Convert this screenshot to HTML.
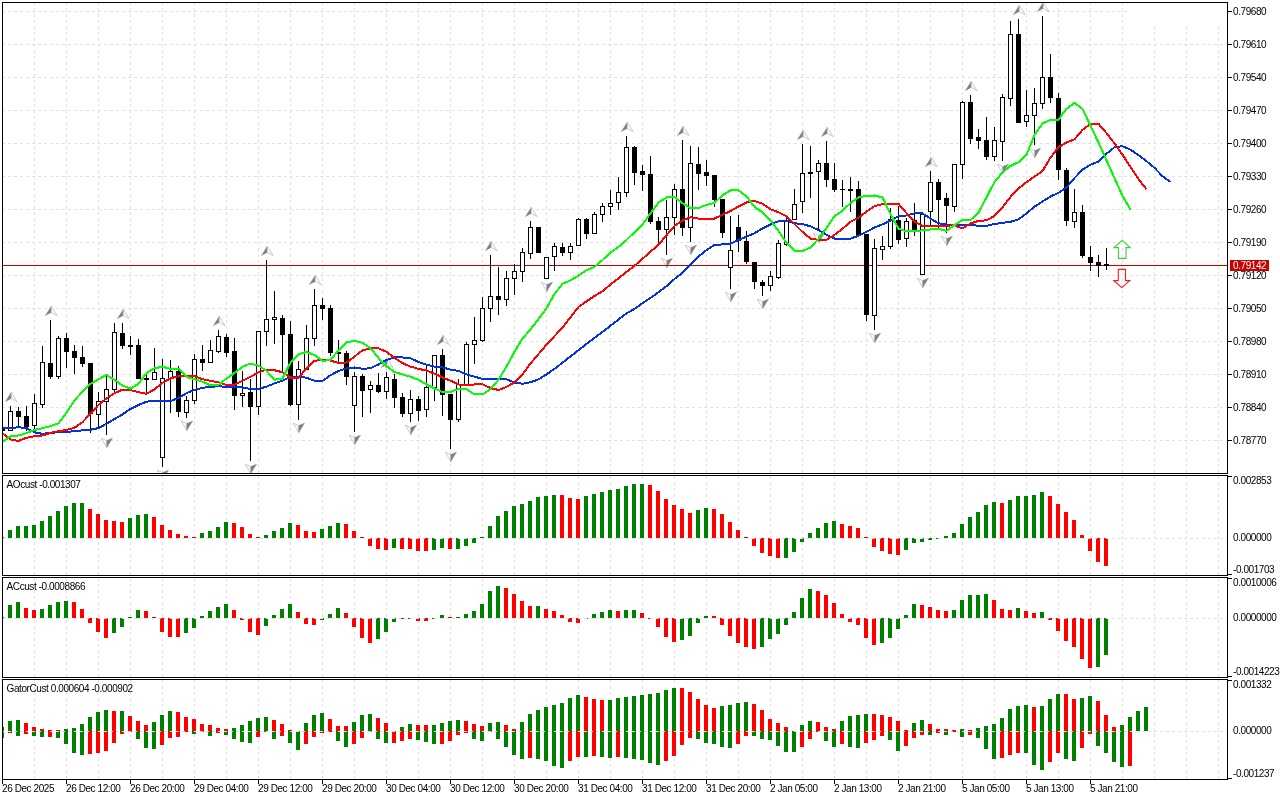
<!DOCTYPE html><html><head><meta charset="utf-8"><title>Chart</title><style>
html,body{margin:0;padding:0;background:#fff;width:1280px;height:800px;overflow:hidden}
svg{display:block;position:absolute;left:0;top:0}
text{font-family:"Liberation Sans",sans-serif;font-size:10px;letter-spacing:-0.42px;fill:#000}
.g{stroke:#e1e1e1;stroke-width:1;stroke-dasharray:3 3;fill:none}
</style></head><body>
<svg width="1280" height="800" viewBox="0 0 1280 800" shape-rendering="crispEdges">
<rect x="0" y="0" width="1280" height="800" fill="#fff"/>
<g class="g">
<line x1="34.5" y1="2" x2="34.5" y2="779"/>
<line x1="66.5" y1="2" x2="66.5" y2="779"/>
<line x1="98.5" y1="2" x2="98.5" y2="779"/>
<line x1="130.5" y1="2" x2="130.5" y2="779"/>
<line x1="162.5" y1="2" x2="162.5" y2="779"/>
<line x1="194.5" y1="2" x2="194.5" y2="779"/>
<line x1="226.5" y1="2" x2="226.5" y2="779"/>
<line x1="258.5" y1="2" x2="258.5" y2="779"/>
<line x1="290.5" y1="2" x2="290.5" y2="779"/>
<line x1="322.5" y1="2" x2="322.5" y2="779"/>
<line x1="354.5" y1="2" x2="354.5" y2="779"/>
<line x1="386.5" y1="2" x2="386.5" y2="779"/>
<line x1="418.5" y1="2" x2="418.5" y2="779"/>
<line x1="450.5" y1="2" x2="450.5" y2="779"/>
<line x1="482.5" y1="2" x2="482.5" y2="779"/>
<line x1="514.5" y1="2" x2="514.5" y2="779"/>
<line x1="546.5" y1="2" x2="546.5" y2="779"/>
<line x1="578.5" y1="2" x2="578.5" y2="779"/>
<line x1="610.5" y1="2" x2="610.5" y2="779"/>
<line x1="642.5" y1="2" x2="642.5" y2="779"/>
<line x1="674.5" y1="2" x2="674.5" y2="779"/>
<line x1="706.5" y1="2" x2="706.5" y2="779"/>
<line x1="738.5" y1="2" x2="738.5" y2="779"/>
<line x1="770.5" y1="2" x2="770.5" y2="779"/>
<line x1="802.5" y1="2" x2="802.5" y2="779"/>
<line x1="834.5" y1="2" x2="834.5" y2="779"/>
<line x1="866.5" y1="2" x2="866.5" y2="779"/>
<line x1="898.5" y1="2" x2="898.5" y2="779"/>
<line x1="930.5" y1="2" x2="930.5" y2="779"/>
<line x1="962.5" y1="2" x2="962.5" y2="779"/>
<line x1="994.5" y1="2" x2="994.5" y2="779"/>
<line x1="1026.5" y1="2" x2="1026.5" y2="779"/>
<line x1="1058.5" y1="2" x2="1058.5" y2="779"/>
<line x1="1090.5" y1="2" x2="1090.5" y2="779"/>
<line x1="1122.5" y1="2" x2="1122.5" y2="779"/>
<line x1="1154.5" y1="2" x2="1154.5" y2="779"/>
<line x1="1186.5" y1="2" x2="1186.5" y2="779"/>
<line x1="1218.5" y1="2" x2="1218.5" y2="779"/>
<line x1="2" y1="11.5" x2="1227" y2="11.5"/>
<line x1="2" y1="44.5" x2="1227" y2="44.5"/>
<line x1="2" y1="77.5" x2="1227" y2="77.5"/>
<line x1="2" y1="110.5" x2="1227" y2="110.5"/>
<line x1="2" y1="143.5" x2="1227" y2="143.5"/>
<line x1="2" y1="176.5" x2="1227" y2="176.5"/>
<line x1="2" y1="209.5" x2="1227" y2="209.5"/>
<line x1="2" y1="242.5" x2="1227" y2="242.5"/>
<line x1="2" y1="275.5" x2="1227" y2="275.5"/>
<line x1="2" y1="308.5" x2="1227" y2="308.5"/>
<line x1="2" y1="341.5" x2="1227" y2="341.5"/>
<line x1="2" y1="374.5" x2="1227" y2="374.5"/>
<line x1="2" y1="407.5" x2="1227" y2="407.5"/>
<line x1="2" y1="440.5" x2="1227" y2="440.5"/>
<line x1="2" y1="538.5" x2="1227" y2="538.5"/>
<line x1="2" y1="618.5" x2="1227" y2="618.5"/>
<line x1="2" y1="731.5" x2="1227" y2="731.5"/>
</g>
<rect x="1127" y="3" width="100" height="23" fill="#fff"/>
<rect x="0" y="474" width="1280" height="1" fill="#fff"/>
<rect x="0" y="576" width="1280" height="1" fill="#fff"/>
<rect x="0" y="678" width="1280" height="1" fill="#fff"/>
<defs><clipPath id="mc"><rect x="3" y="3" width="1224" height="470"/></clipPath></defs>
<g clip-path="url(#mc)">
<g shape-rendering="geometricPrecision">
<polygon points="11.3,392.25 5.4,401.6 11.3,398.5" fill="#808080" stroke="#8a8a8a" stroke-width=".4"/><polygon points="11.3,392.25 17,401.6 11.3,398.5" fill="#fbfbfb" stroke="#b4b8c6" stroke-width=".7"/>
<polygon points="51.3,306.25 45.4,315.6 51.3,312.5" fill="#808080" stroke="#8a8a8a" stroke-width=".4"/><polygon points="51.3,306.25 57,315.6 51.3,312.5" fill="#fbfbfb" stroke="#b4b8c6" stroke-width=".7"/>
<polygon points="123.3,309.25 117.4,318.6 123.3,315.5" fill="#808080" stroke="#8a8a8a" stroke-width=".4"/><polygon points="123.3,309.25 129,318.6 123.3,315.5" fill="#fbfbfb" stroke="#b4b8c6" stroke-width=".7"/>
<polygon points="219.3,316.25 213.4,325.6 219.3,322.5" fill="#808080" stroke="#8a8a8a" stroke-width=".4"/><polygon points="219.3,316.25 225,325.6 219.3,322.5" fill="#fbfbfb" stroke="#b4b8c6" stroke-width=".7"/>
<polygon points="267.3,246.25 261.4,255.6 267.3,252.5" fill="#808080" stroke="#8a8a8a" stroke-width=".4"/><polygon points="267.3,246.25 273,255.6 267.3,252.5" fill="#fbfbfb" stroke="#b4b8c6" stroke-width=".7"/>
<polygon points="315.3,275.25 309.4,284.6 315.3,281.5" fill="#808080" stroke="#8a8a8a" stroke-width=".4"/><polygon points="315.3,275.25 321,284.6 315.3,281.5" fill="#fbfbfb" stroke="#b4b8c6" stroke-width=".7"/>
<polygon points="387.3,358.25 381.4,367.6 387.3,364.5" fill="#808080" stroke="#8a8a8a" stroke-width=".4"/><polygon points="387.3,358.25 393,367.6 387.3,364.5" fill="#fbfbfb" stroke="#b4b8c6" stroke-width=".7"/>
<polygon points="443.3,335.25 437.4,344.6 443.3,341.5" fill="#808080" stroke="#8a8a8a" stroke-width=".4"/><polygon points="443.3,335.25 449,344.6 443.3,341.5" fill="#fbfbfb" stroke="#b4b8c6" stroke-width=".7"/>
<polygon points="491.3,241.25 485.4,250.6 491.3,247.5" fill="#808080" stroke="#8a8a8a" stroke-width=".4"/><polygon points="491.3,241.25 497,250.6 491.3,247.5" fill="#fbfbfb" stroke="#b4b8c6" stroke-width=".7"/>
<polygon points="531.3,207.25 525.4,216.6 531.3,213.5" fill="#808080" stroke="#8a8a8a" stroke-width=".4"/><polygon points="531.3,207.25 537,216.6 531.3,213.5" fill="#fbfbfb" stroke="#b4b8c6" stroke-width=".7"/>
<polygon points="627.3,122.25 621.4,131.6 627.3,128.5" fill="#808080" stroke="#8a8a8a" stroke-width=".4"/><polygon points="627.3,122.25 633,131.6 627.3,128.5" fill="#fbfbfb" stroke="#b4b8c6" stroke-width=".7"/>
<polygon points="683.3,126.25 677.4,135.6 683.3,132.5" fill="#808080" stroke="#8a8a8a" stroke-width=".4"/><polygon points="683.3,126.25 689,135.6 683.3,132.5" fill="#fbfbfb" stroke="#b4b8c6" stroke-width=".7"/>
<polygon points="803.3,130.25 797.4,139.6 803.3,136.5" fill="#808080" stroke="#8a8a8a" stroke-width=".4"/><polygon points="803.3,130.25 809,139.6 803.3,136.5" fill="#fbfbfb" stroke="#b4b8c6" stroke-width=".7"/>
<polygon points="827.3,127.25 821.4,136.6 827.3,133.5" fill="#808080" stroke="#8a8a8a" stroke-width=".4"/><polygon points="827.3,127.25 833,136.6 827.3,133.5" fill="#fbfbfb" stroke="#b4b8c6" stroke-width=".7"/>
<polygon points="931.3,157.25 925.4,166.6 931.3,163.5" fill="#808080" stroke="#8a8a8a" stroke-width=".4"/><polygon points="931.3,157.25 937,166.6 931.3,163.5" fill="#fbfbfb" stroke="#b4b8c6" stroke-width=".7"/>
<polygon points="971.3,81.25 965.4,90.6 971.3,87.5" fill="#808080" stroke="#8a8a8a" stroke-width=".4"/><polygon points="971.3,81.25 977,90.6 971.3,87.5" fill="#fbfbfb" stroke="#b4b8c6" stroke-width=".7"/>
<polygon points="1019.3,5.25 1013.4,14.6 1019.3,11.5" fill="#808080" stroke="#8a8a8a" stroke-width=".4"/><polygon points="1019.3,5.25 1025,14.6 1019.3,11.5" fill="#fbfbfb" stroke="#b4b8c6" stroke-width=".7"/>
<polygon points="1043.3,2.25 1037.4,11.6 1043.3,8.5" fill="#808080" stroke="#8a8a8a" stroke-width=".4"/><polygon points="1043.3,2.25 1049,11.6 1043.3,8.5" fill="#fbfbfb" stroke="#b4b8c6" stroke-width=".7"/>
<polygon points="106.8,447.5 101.2,438.1 106.8,440.6" fill="#fbfbfb" stroke="#b4b8c6" stroke-width=".7"/><polygon points="106.8,447.5 112.6,438.1 106.8,440.6" fill="#808080" stroke="#8a8a8a" stroke-width=".4"/>
<polygon points="162.8,479.5 157.2,470.1 162.8,472.6" fill="#fbfbfb" stroke="#b4b8c6" stroke-width=".7"/><polygon points="162.8,479.5 168.6,470.1 162.8,472.6" fill="#808080" stroke="#8a8a8a" stroke-width=".4"/>
<polygon points="186.8,430.5 181.2,421.1 186.8,423.6" fill="#fbfbfb" stroke="#b4b8c6" stroke-width=".7"/><polygon points="186.8,430.5 192.6,421.1 186.8,423.6" fill="#808080" stroke="#8a8a8a" stroke-width=".4"/>
<polygon points="250.8,473.5 245.2,464.1 250.8,466.6" fill="#fbfbfb" stroke="#b4b8c6" stroke-width=".7"/><polygon points="250.8,473.5 256.6,464.1 250.8,466.6" fill="#808080" stroke="#8a8a8a" stroke-width=".4"/>
<polygon points="298.8,432.5 293.2,423.1 298.8,425.6" fill="#fbfbfb" stroke="#b4b8c6" stroke-width=".7"/><polygon points="298.8,432.5 304.6,423.1 298.8,425.6" fill="#808080" stroke="#8a8a8a" stroke-width=".4"/>
<polygon points="354.8,444.5 349.2,435.1 354.8,437.6" fill="#fbfbfb" stroke="#b4b8c6" stroke-width=".7"/><polygon points="354.8,444.5 360.6,435.1 354.8,437.6" fill="#808080" stroke="#8a8a8a" stroke-width=".4"/>
<polygon points="410.8,434.5 405.2,425.1 410.8,427.6" fill="#fbfbfb" stroke="#b4b8c6" stroke-width=".7"/><polygon points="410.8,434.5 416.6,425.1 410.8,427.6" fill="#808080" stroke="#8a8a8a" stroke-width=".4"/>
<polygon points="450.8,461.5 445.2,452.1 450.8,454.6" fill="#fbfbfb" stroke="#b4b8c6" stroke-width=".7"/><polygon points="450.8,461.5 456.6,452.1 450.8,454.6" fill="#808080" stroke="#8a8a8a" stroke-width=".4"/>
<polygon points="546.8,291.5 541.2,282.1 546.8,284.6" fill="#fbfbfb" stroke="#b4b8c6" stroke-width=".7"/><polygon points="546.8,291.5 552.6,282.1 546.8,284.6" fill="#808080" stroke="#8a8a8a" stroke-width=".4"/>
<polygon points="666.8,267.5 661.2,258.1 666.8,260.6" fill="#fbfbfb" stroke="#b4b8c6" stroke-width=".7"/><polygon points="666.8,267.5 672.6,258.1 666.8,260.6" fill="#808080" stroke="#8a8a8a" stroke-width=".4"/>
<polygon points="690.8,254.5 685.2,245.1 690.8,247.6" fill="#fbfbfb" stroke="#b4b8c6" stroke-width=".7"/><polygon points="690.8,254.5 696.6,245.1 690.8,247.6" fill="#808080" stroke="#8a8a8a" stroke-width=".4"/>
<polygon points="730.8,301.5 725.2,292.1 730.8,294.6" fill="#fbfbfb" stroke="#b4b8c6" stroke-width=".7"/><polygon points="730.8,301.5 736.6,292.1 730.8,294.6" fill="#808080" stroke="#8a8a8a" stroke-width=".4"/>
<polygon points="762.8,308.5 757.2,299.1 762.8,301.6" fill="#fbfbfb" stroke="#b4b8c6" stroke-width=".7"/><polygon points="762.8,308.5 768.6,299.1 762.8,301.6" fill="#808080" stroke="#8a8a8a" stroke-width=".4"/>
<polygon points="818.8,242.5 813.2,233.1 818.8,235.6" fill="#fbfbfb" stroke="#b4b8c6" stroke-width=".7"/><polygon points="818.8,242.5 824.6,233.1 818.8,235.6" fill="#808080" stroke="#8a8a8a" stroke-width=".4"/>
<polygon points="874.8,342.5 869.2,333.1 874.8,335.6" fill="#fbfbfb" stroke="#b4b8c6" stroke-width=".7"/><polygon points="874.8,342.5 880.6,333.1 874.8,335.6" fill="#808080" stroke="#8a8a8a" stroke-width=".4"/>
<polygon points="922.8,287.5 917.2,278.1 922.8,280.6" fill="#fbfbfb" stroke="#b4b8c6" stroke-width=".7"/><polygon points="922.8,287.5 928.6,278.1 922.8,280.6" fill="#808080" stroke="#8a8a8a" stroke-width=".4"/>
<polygon points="946.8,245.5 941.2,236.1 946.8,238.6" fill="#fbfbfb" stroke="#b4b8c6" stroke-width=".7"/><polygon points="946.8,245.5 952.6,236.1 946.8,238.6" fill="#808080" stroke="#8a8a8a" stroke-width=".4"/>
<polygon points="1002.8,173.5 997.2,164.1 1002.8,166.6" fill="#fbfbfb" stroke="#b4b8c6" stroke-width=".7"/><polygon points="1002.8,173.5 1008.6,164.1 1002.8,166.6" fill="#808080" stroke="#8a8a8a" stroke-width=".4"/>
<polygon points="1034.8,157.5 1029.2,148.1 1034.8,150.6" fill="#fbfbfb" stroke="#b4b8c6" stroke-width=".7"/><polygon points="1034.8,157.5 1040.6,148.1 1034.8,150.6" fill="#808080" stroke="#8a8a8a" stroke-width=".4"/>
</g>
<rect x="3" y="265" width="1224" height="1" fill="#c80000"/>
<rect x="10" y="406" width="1" height="25" fill="#000"/>
<rect x="8" y="411" width="5" height="20" fill="#000"/>
<rect x="9" y="412" width="3" height="18" fill="#fff"/>
<rect x="18" y="407" width="1" height="20" fill="#000"/>
<rect x="16" y="411" width="5" height="6" fill="#000"/>
<rect x="26" y="406" width="1" height="25" fill="#000"/>
<rect x="24" y="416" width="5" height="11" fill="#000"/>
<rect x="34" y="394" width="1" height="35" fill="#000"/>
<rect x="32" y="403" width="5" height="23" fill="#000"/>
<rect x="33" y="404" width="3" height="21" fill="#fff"/>
<rect x="42" y="346" width="1" height="62" fill="#000"/>
<rect x="40" y="362" width="5" height="43" fill="#000"/>
<rect x="41" y="363" width="3" height="41" fill="#fff"/>
<rect x="50" y="320" width="1" height="59" fill="#000"/>
<rect x="48" y="363" width="5" height="14" fill="#000"/>
<rect x="58" y="336" width="1" height="43" fill="#000"/>
<rect x="56" y="338" width="5" height="39" fill="#000"/>
<rect x="57" y="339" width="3" height="37" fill="#fff"/>
<rect x="66" y="333" width="1" height="35" fill="#000"/>
<rect x="64" y="338" width="5" height="14" fill="#000"/>
<rect x="74" y="345" width="1" height="29" fill="#000"/>
<rect x="72" y="351" width="5" height="7" fill="#000"/>
<rect x="82" y="346" width="1" height="21" fill="#000"/>
<rect x="80" y="357" width="5" height="7" fill="#000"/>
<rect x="90" y="363" width="1" height="70" fill="#000"/>
<rect x="88" y="363" width="5" height="51" fill="#000"/>
<rect x="98" y="392" width="1" height="36" fill="#000"/>
<rect x="96" y="401" width="5" height="14" fill="#000"/>
<rect x="97" y="402" width="3" height="12" fill="#fff"/>
<rect x="106" y="376" width="1" height="59" fill="#000"/>
<rect x="104" y="389" width="5" height="13" fill="#000"/>
<rect x="105" y="390" width="3" height="11" fill="#fff"/>
<rect x="114" y="323" width="1" height="69" fill="#000"/>
<rect x="112" y="332" width="5" height="58" fill="#000"/>
<rect x="113" y="333" width="3" height="56" fill="#fff"/>
<rect x="122" y="323" width="1" height="26" fill="#000"/>
<rect x="120" y="333" width="5" height="13" fill="#000"/>
<rect x="130" y="336" width="1" height="19" fill="#000"/>
<rect x="128" y="345" width="5" height="2" fill="#000"/>
<rect x="138" y="339" width="1" height="40" fill="#000"/>
<rect x="136" y="345" width="5" height="34" fill="#000"/>
<rect x="146" y="374" width="1" height="19" fill="#000"/>
<rect x="144" y="378" width="5" height="2" fill="#000"/>
<rect x="154" y="348" width="1" height="32" fill="#000"/>
<rect x="152" y="372" width="5" height="8" fill="#000"/>
<rect x="153" y="373" width="3" height="6" fill="#fff"/>
<rect x="162" y="359" width="1" height="108" fill="#000"/>
<rect x="160" y="378" width="5" height="80" fill="#000"/>
<rect x="161" y="379" width="3" height="78" fill="#fff"/>
<rect x="170" y="360" width="1" height="53" fill="#000"/>
<rect x="168" y="371" width="5" height="8" fill="#000"/>
<rect x="169" y="372" width="3" height="6" fill="#fff"/>
<rect x="178" y="366" width="1" height="51" fill="#000"/>
<rect x="176" y="371" width="5" height="41" fill="#000"/>
<rect x="186" y="396" width="1" height="22" fill="#000"/>
<rect x="184" y="400" width="5" height="13" fill="#000"/>
<rect x="185" y="401" width="3" height="11" fill="#fff"/>
<rect x="194" y="354" width="1" height="50" fill="#000"/>
<rect x="192" y="359" width="5" height="42" fill="#000"/>
<rect x="193" y="360" width="3" height="40" fill="#fff"/>
<rect x="202" y="345" width="1" height="26" fill="#000"/>
<rect x="200" y="359" width="5" height="4" fill="#000"/>
<rect x="210" y="340" width="1" height="23" fill="#000"/>
<rect x="208" y="350" width="5" height="13" fill="#000"/>
<rect x="209" y="351" width="3" height="11" fill="#fff"/>
<rect x="218" y="330" width="1" height="23" fill="#000"/>
<rect x="216" y="336" width="5" height="16" fill="#000"/>
<rect x="217" y="337" width="3" height="14" fill="#fff"/>
<rect x="226" y="334" width="1" height="23" fill="#000"/>
<rect x="224" y="337" width="5" height="16" fill="#000"/>
<rect x="234" y="338" width="1" height="72" fill="#000"/>
<rect x="232" y="351" width="5" height="45" fill="#000"/>
<rect x="242" y="371" width="1" height="36" fill="#000"/>
<rect x="240" y="393" width="5" height="3" fill="#000"/>
<rect x="241" y="394" width="3" height="1" fill="#fff"/>
<rect x="250" y="379" width="1" height="82" fill="#000"/>
<rect x="248" y="392" width="5" height="15" fill="#000"/>
<rect x="258" y="331" width="1" height="84" fill="#000"/>
<rect x="256" y="331" width="5" height="76" fill="#000"/>
<rect x="257" y="332" width="3" height="74" fill="#fff"/>
<rect x="266" y="260" width="1" height="86" fill="#000"/>
<rect x="264" y="319" width="5" height="13" fill="#000"/>
<rect x="265" y="320" width="3" height="11" fill="#fff"/>
<rect x="274" y="291" width="1" height="53" fill="#000"/>
<rect x="272" y="317" width="5" height="3" fill="#000"/>
<rect x="273" y="318" width="3" height="1" fill="#fff"/>
<rect x="282" y="315" width="1" height="58" fill="#000"/>
<rect x="280" y="318" width="5" height="17" fill="#000"/>
<rect x="290" y="321" width="1" height="85" fill="#000"/>
<rect x="288" y="334" width="5" height="71" fill="#000"/>
<rect x="298" y="361" width="1" height="59" fill="#000"/>
<rect x="296" y="369" width="5" height="36" fill="#000"/>
<rect x="297" y="370" width="3" height="34" fill="#fff"/>
<rect x="306" y="325" width="1" height="45" fill="#000"/>
<rect x="304" y="338" width="5" height="32" fill="#000"/>
<rect x="305" y="339" width="3" height="30" fill="#fff"/>
<rect x="314" y="289" width="1" height="57" fill="#000"/>
<rect x="312" y="305" width="5" height="34" fill="#000"/>
<rect x="313" y="306" width="3" height="32" fill="#fff"/>
<rect x="322" y="298" width="1" height="22" fill="#000"/>
<rect x="320" y="305" width="5" height="4" fill="#000"/>
<rect x="330" y="305" width="1" height="51" fill="#000"/>
<rect x="328" y="308" width="5" height="45" fill="#000"/>
<rect x="338" y="340" width="1" height="23" fill="#000"/>
<rect x="336" y="352" width="5" height="2" fill="#000"/>
<rect x="346" y="351" width="1" height="34" fill="#000"/>
<rect x="344" y="353" width="5" height="24" fill="#000"/>
<rect x="354" y="372" width="1" height="60" fill="#000"/>
<rect x="352" y="376" width="5" height="30" fill="#000"/>
<rect x="353" y="377" width="3" height="28" fill="#fff"/>
<rect x="362" y="374" width="1" height="43" fill="#000"/>
<rect x="360" y="376" width="5" height="15" fill="#000"/>
<rect x="370" y="381" width="1" height="32" fill="#000"/>
<rect x="368" y="385" width="5" height="5" fill="#000"/>
<rect x="369" y="386" width="3" height="3" fill="#fff"/>
<rect x="378" y="373" width="1" height="20" fill="#000"/>
<rect x="376" y="385" width="5" height="7" fill="#000"/>
<rect x="386" y="372" width="1" height="27" fill="#000"/>
<rect x="384" y="377" width="5" height="15" fill="#000"/>
<rect x="385" y="378" width="3" height="13" fill="#fff"/>
<rect x="394" y="374" width="1" height="34" fill="#000"/>
<rect x="392" y="379" width="5" height="19" fill="#000"/>
<rect x="402" y="393" width="1" height="24" fill="#000"/>
<rect x="400" y="397" width="5" height="17" fill="#000"/>
<rect x="410" y="390" width="1" height="32" fill="#000"/>
<rect x="408" y="399" width="5" height="15" fill="#000"/>
<rect x="409" y="400" width="3" height="13" fill="#fff"/>
<rect x="418" y="396" width="1" height="25" fill="#000"/>
<rect x="416" y="399" width="5" height="12" fill="#000"/>
<rect x="426" y="365" width="1" height="52" fill="#000"/>
<rect x="424" y="387" width="5" height="23" fill="#000"/>
<rect x="425" y="388" width="3" height="21" fill="#fff"/>
<rect x="434" y="355" width="1" height="46" fill="#000"/>
<rect x="432" y="355" width="5" height="33" fill="#000"/>
<rect x="433" y="356" width="3" height="31" fill="#fff"/>
<rect x="442" y="349" width="1" height="67" fill="#000"/>
<rect x="440" y="355" width="5" height="40" fill="#000"/>
<rect x="450" y="394" width="1" height="55" fill="#000"/>
<rect x="448" y="394" width="5" height="26" fill="#000"/>
<rect x="458" y="379" width="1" height="43" fill="#000"/>
<rect x="456" y="384" width="5" height="36" fill="#000"/>
<rect x="457" y="385" width="3" height="34" fill="#fff"/>
<rect x="466" y="342" width="1" height="43" fill="#000"/>
<rect x="464" y="344" width="5" height="41" fill="#000"/>
<rect x="465" y="345" width="3" height="39" fill="#fff"/>
<rect x="474" y="317" width="1" height="47" fill="#000"/>
<rect x="472" y="340" width="5" height="5" fill="#000"/>
<rect x="473" y="341" width="3" height="3" fill="#fff"/>
<rect x="482" y="297" width="1" height="45" fill="#000"/>
<rect x="480" y="308" width="5" height="33" fill="#000"/>
<rect x="481" y="309" width="3" height="31" fill="#fff"/>
<rect x="490" y="255" width="1" height="67" fill="#000"/>
<rect x="488" y="296" width="5" height="13" fill="#000"/>
<rect x="489" y="297" width="3" height="11" fill="#fff"/>
<rect x="498" y="267" width="1" height="48" fill="#000"/>
<rect x="496" y="296" width="5" height="4" fill="#000"/>
<rect x="506" y="271" width="1" height="35" fill="#000"/>
<rect x="504" y="278" width="5" height="22" fill="#000"/>
<rect x="505" y="279" width="3" height="20" fill="#fff"/>
<rect x="514" y="264" width="1" height="31" fill="#000"/>
<rect x="512" y="271" width="5" height="8" fill="#000"/>
<rect x="513" y="272" width="3" height="6" fill="#fff"/>
<rect x="522" y="248" width="1" height="34" fill="#000"/>
<rect x="520" y="252" width="5" height="20" fill="#000"/>
<rect x="521" y="253" width="3" height="18" fill="#fff"/>
<rect x="530" y="221" width="1" height="38" fill="#000"/>
<rect x="528" y="227" width="5" height="27" fill="#000"/>
<rect x="529" y="228" width="3" height="25" fill="#fff"/>
<rect x="538" y="227" width="1" height="26" fill="#000"/>
<rect x="536" y="227" width="5" height="26" fill="#000"/>
<rect x="546" y="257" width="1" height="22" fill="#000"/>
<rect x="544" y="257" width="5" height="22" fill="#000"/>
<rect x="545" y="258" width="3" height="20" fill="#fff"/>
<rect x="554" y="243" width="1" height="28" fill="#000"/>
<rect x="552" y="246" width="5" height="11" fill="#000"/>
<rect x="553" y="247" width="3" height="9" fill="#fff"/>
<rect x="562" y="243" width="1" height="13" fill="#000"/>
<rect x="560" y="247" width="5" height="6" fill="#000"/>
<rect x="570" y="243" width="1" height="17" fill="#000"/>
<rect x="568" y="246" width="5" height="7" fill="#000"/>
<rect x="569" y="247" width="3" height="5" fill="#fff"/>
<rect x="578" y="218" width="1" height="28" fill="#000"/>
<rect x="576" y="219" width="5" height="27" fill="#000"/>
<rect x="577" y="220" width="3" height="25" fill="#fff"/>
<rect x="586" y="218" width="1" height="21" fill="#000"/>
<rect x="584" y="219" width="5" height="15" fill="#000"/>
<rect x="594" y="212" width="1" height="22" fill="#000"/>
<rect x="592" y="214" width="5" height="20" fill="#000"/>
<rect x="593" y="215" width="3" height="18" fill="#fff"/>
<rect x="602" y="203" width="1" height="19" fill="#000"/>
<rect x="600" y="206" width="5" height="9" fill="#000"/>
<rect x="601" y="207" width="3" height="7" fill="#fff"/>
<rect x="610" y="190" width="1" height="25" fill="#000"/>
<rect x="608" y="203" width="5" height="4" fill="#000"/>
<rect x="609" y="204" width="3" height="2" fill="#fff"/>
<rect x="618" y="177" width="1" height="33" fill="#000"/>
<rect x="616" y="192" width="5" height="11" fill="#000"/>
<rect x="617" y="193" width="3" height="9" fill="#fff"/>
<rect x="626" y="136" width="1" height="61" fill="#000"/>
<rect x="624" y="147" width="5" height="46" fill="#000"/>
<rect x="625" y="148" width="3" height="44" fill="#fff"/>
<rect x="634" y="146" width="1" height="39" fill="#000"/>
<rect x="632" y="147" width="5" height="26" fill="#000"/>
<rect x="642" y="165" width="1" height="26" fill="#000"/>
<rect x="640" y="171" width="5" height="4" fill="#000"/>
<rect x="650" y="156" width="1" height="68" fill="#000"/>
<rect x="648" y="174" width="5" height="48" fill="#000"/>
<rect x="658" y="217" width="1" height="27" fill="#000"/>
<rect x="656" y="221" width="5" height="9" fill="#000"/>
<rect x="666" y="200" width="1" height="55" fill="#000"/>
<rect x="664" y="217" width="5" height="13" fill="#000"/>
<rect x="665" y="218" width="3" height="11" fill="#fff"/>
<rect x="674" y="184" width="1" height="51" fill="#000"/>
<rect x="672" y="189" width="5" height="29" fill="#000"/>
<rect x="673" y="190" width="3" height="27" fill="#fff"/>
<rect x="682" y="140" width="1" height="96" fill="#000"/>
<rect x="680" y="189" width="5" height="39" fill="#000"/>
<rect x="690" y="146" width="1" height="96" fill="#000"/>
<rect x="688" y="163" width="5" height="65" fill="#000"/>
<rect x="689" y="164" width="3" height="63" fill="#fff"/>
<rect x="698" y="147" width="1" height="43" fill="#000"/>
<rect x="696" y="164" width="5" height="10" fill="#000"/>
<rect x="706" y="160" width="1" height="26" fill="#000"/>
<rect x="704" y="172" width="5" height="4" fill="#000"/>
<rect x="714" y="175" width="1" height="32" fill="#000"/>
<rect x="712" y="175" width="5" height="25" fill="#000"/>
<rect x="722" y="199" width="1" height="39" fill="#000"/>
<rect x="720" y="199" width="5" height="34" fill="#000"/>
<rect x="730" y="216" width="1" height="73" fill="#000"/>
<rect x="728" y="250" width="5" height="18" fill="#000"/>
<rect x="729" y="251" width="3" height="16" fill="#fff"/>
<rect x="738" y="215" width="1" height="37" fill="#000"/>
<rect x="736" y="227" width="5" height="14" fill="#000"/>
<rect x="746" y="231" width="1" height="33" fill="#000"/>
<rect x="744" y="241" width="5" height="21" fill="#000"/>
<rect x="754" y="262" width="1" height="27" fill="#000"/>
<rect x="752" y="262" width="5" height="20" fill="#000"/>
<rect x="762" y="280" width="1" height="16" fill="#000"/>
<rect x="760" y="282" width="5" height="4" fill="#000"/>
<rect x="770" y="271" width="1" height="20" fill="#000"/>
<rect x="768" y="276" width="5" height="10" fill="#000"/>
<rect x="769" y="277" width="3" height="8" fill="#fff"/>
<rect x="778" y="240" width="1" height="39" fill="#000"/>
<rect x="776" y="243" width="5" height="35" fill="#000"/>
<rect x="777" y="244" width="3" height="33" fill="#fff"/>
<rect x="786" y="217" width="1" height="29" fill="#000"/>
<rect x="784" y="220" width="5" height="25" fill="#000"/>
<rect x="785" y="221" width="3" height="23" fill="#fff"/>
<rect x="794" y="189" width="1" height="31" fill="#000"/>
<rect x="792" y="204" width="5" height="16" fill="#000"/>
<rect x="793" y="205" width="3" height="14" fill="#fff"/>
<rect x="802" y="144" width="1" height="69" fill="#000"/>
<rect x="800" y="173" width="5" height="29" fill="#000"/>
<rect x="801" y="174" width="3" height="27" fill="#fff"/>
<rect x="810" y="146" width="1" height="52" fill="#000"/>
<rect x="808" y="172" width="5" height="2" fill="#000"/>
<rect x="818" y="160" width="1" height="70" fill="#000"/>
<rect x="816" y="163" width="5" height="9" fill="#000"/>
<rect x="817" y="164" width="3" height="7" fill="#fff"/>
<rect x="826" y="141" width="1" height="46" fill="#000"/>
<rect x="824" y="163" width="5" height="17" fill="#000"/>
<rect x="834" y="163" width="1" height="29" fill="#000"/>
<rect x="832" y="179" width="5" height="11" fill="#000"/>
<rect x="842" y="180" width="1" height="27" fill="#000"/>
<rect x="840" y="189" width="5" height="1" fill="#000"/>
<rect x="850" y="177" width="1" height="35" fill="#000"/>
<rect x="848" y="189" width="5" height="2" fill="#000"/>
<rect x="858" y="181" width="1" height="55" fill="#000"/>
<rect x="856" y="189" width="5" height="47" fill="#000"/>
<rect x="866" y="234" width="1" height="87" fill="#000"/>
<rect x="864" y="234" width="5" height="81" fill="#000"/>
<rect x="874" y="239" width="1" height="91" fill="#000"/>
<rect x="872" y="248" width="5" height="68" fill="#000"/>
<rect x="873" y="249" width="3" height="66" fill="#fff"/>
<rect x="882" y="236" width="1" height="24" fill="#000"/>
<rect x="880" y="246" width="5" height="4" fill="#000"/>
<rect x="881" y="247" width="3" height="2" fill="#fff"/>
<rect x="890" y="208" width="1" height="41" fill="#000"/>
<rect x="888" y="219" width="5" height="28" fill="#000"/>
<rect x="889" y="220" width="3" height="26" fill="#fff"/>
<rect x="898" y="206" width="1" height="38" fill="#000"/>
<rect x="896" y="220" width="5" height="20" fill="#000"/>
<rect x="906" y="218" width="1" height="29" fill="#000"/>
<rect x="904" y="221" width="5" height="18" fill="#000"/>
<rect x="905" y="222" width="3" height="16" fill="#fff"/>
<rect x="914" y="203" width="1" height="33" fill="#000"/>
<rect x="912" y="220" width="5" height="11" fill="#000"/>
<rect x="922" y="214" width="1" height="61" fill="#000"/>
<rect x="920" y="214" width="5" height="61" fill="#000"/>
<rect x="921" y="215" width="3" height="59" fill="#fff"/>
<rect x="930" y="171" width="1" height="55" fill="#000"/>
<rect x="928" y="182" width="5" height="30" fill="#000"/>
<rect x="929" y="183" width="3" height="28" fill="#fff"/>
<rect x="938" y="179" width="1" height="51" fill="#000"/>
<rect x="936" y="182" width="5" height="18" fill="#000"/>
<rect x="946" y="193" width="1" height="40" fill="#000"/>
<rect x="944" y="198" width="5" height="8" fill="#000"/>
<rect x="954" y="164" width="1" height="48" fill="#000"/>
<rect x="952" y="164" width="5" height="43" fill="#000"/>
<rect x="953" y="165" width="3" height="41" fill="#fff"/>
<rect x="962" y="101" width="1" height="78" fill="#000"/>
<rect x="960" y="102" width="5" height="63" fill="#000"/>
<rect x="961" y="103" width="3" height="61" fill="#fff"/>
<rect x="970" y="95" width="1" height="49" fill="#000"/>
<rect x="968" y="102" width="5" height="37" fill="#000"/>
<rect x="978" y="129" width="1" height="20" fill="#000"/>
<rect x="976" y="137" width="5" height="4" fill="#000"/>
<rect x="986" y="117" width="1" height="43" fill="#000"/>
<rect x="984" y="140" width="5" height="17" fill="#000"/>
<rect x="994" y="127" width="1" height="34" fill="#000"/>
<rect x="992" y="140" width="5" height="17" fill="#000"/>
<rect x="993" y="141" width="3" height="15" fill="#fff"/>
<rect x="1002" y="94" width="1" height="67" fill="#000"/>
<rect x="1000" y="97" width="5" height="45" fill="#000"/>
<rect x="1001" y="98" width="3" height="43" fill="#fff"/>
<rect x="1010" y="21" width="1" height="85" fill="#000"/>
<rect x="1008" y="34" width="5" height="65" fill="#000"/>
<rect x="1009" y="35" width="3" height="63" fill="#fff"/>
<rect x="1018" y="19" width="1" height="104" fill="#000"/>
<rect x="1016" y="34" width="5" height="89" fill="#000"/>
<rect x="1026" y="90" width="1" height="37" fill="#000"/>
<rect x="1024" y="115" width="5" height="7" fill="#000"/>
<rect x="1025" y="116" width="3" height="5" fill="#fff"/>
<rect x="1034" y="88" width="1" height="57" fill="#000"/>
<rect x="1032" y="103" width="5" height="13" fill="#000"/>
<rect x="1033" y="104" width="3" height="11" fill="#fff"/>
<rect x="1042" y="16" width="1" height="93" fill="#000"/>
<rect x="1040" y="77" width="5" height="27" fill="#000"/>
<rect x="1041" y="78" width="3" height="25" fill="#fff"/>
<rect x="1050" y="54" width="1" height="49" fill="#000"/>
<rect x="1048" y="77" width="5" height="21" fill="#000"/>
<rect x="1058" y="93" width="1" height="87" fill="#000"/>
<rect x="1056" y="98" width="5" height="72" fill="#000"/>
<rect x="1066" y="168" width="1" height="58" fill="#000"/>
<rect x="1064" y="170" width="5" height="51" fill="#000"/>
<rect x="1074" y="189" width="1" height="39" fill="#000"/>
<rect x="1072" y="212" width="5" height="10" fill="#000"/>
<rect x="1073" y="213" width="3" height="8" fill="#fff"/>
<rect x="1082" y="205" width="1" height="53" fill="#000"/>
<rect x="1080" y="212" width="5" height="44" fill="#000"/>
<rect x="1090" y="246" width="1" height="25" fill="#000"/>
<rect x="1088" y="257" width="5" height="6" fill="#000"/>
<rect x="1098" y="255" width="1" height="22" fill="#000"/>
<rect x="1096" y="262" width="5" height="4" fill="#000"/>
<rect x="1106" y="248" width="1" height="22" fill="#000"/>
<rect x="1104" y="264" width="5" height="2" fill="#000"/>
<rect x="3" y="428" width="2" height="3" fill="#000"/>
<polyline points="3,428.4 10.5,428.1 18.5,427.2 26.5,428.1 34.5,432.3 42.5,433.9 50.5,432.8 58.5,432.3 66.5,431.9 74.5,431.2 82.5,430.3 90.5,429.7 98.5,428.1 106.5,423.8 114.5,419.0 122.5,414.4 130.5,408.9 138.5,405.0 146.5,401.6 154.5,401.1 162.5,401.1 170.5,401.1 178.5,398.0 186.5,393.3 194.5,389.8 202.5,387.8 210.5,387.0 218.5,386.2 226.5,387.0 234.5,387.0 242.5,387.5 250.5,389.0 258.5,389.0 266.5,386.6 274.5,383.4 282.5,380.8 290.5,376.9 298.5,376.6 306.5,377.7 314.5,380.8 322.5,380.8 330.5,375.3 338.5,370.9 346.5,368.3 354.5,367.5 362.5,368.8 370.5,368.3 378.5,364.4 386.5,360.0 394.5,357.2 402.5,357.5 410.5,358.4 418.5,361.9 426.5,364.7 434.5,366.6 442.5,367.3 450.5,369.7 458.5,370.9 466.5,374.4 474.5,376.7 482.5,378.8 490.5,379.0 498.5,379.0 506.5,379.4 514.5,382.5 522.5,383.8 530.5,382.2 538.5,379.4 546.5,374.4 554.5,368.9 562.5,362.7 570.5,356.4 578.5,350.2 586.5,344.0 594.5,338.0 602.5,332.0 610.5,325.7 618.5,319.5 626.5,313.4 634.5,308.8 642.5,303.3 650.5,297.8 658.5,292.3 666.5,286.1 674.5,279.0 682.5,272.8 690.5,264.2 698.5,256.4 706.5,250.2 714.5,245.0 722.5,244.4 730.5,243.6 738.5,240.0 746.5,236.6 754.5,233.3 762.5,228.4 770.5,224.4 778.5,221.2 786.5,220.6 794.5,223.3 802.5,224.0 810.5,226.4 818.5,230.0 826.5,234.7 834.5,238.6 842.5,238.6 850.5,238.6 858.5,235.8 866.5,231.9 874.5,227.5 882.5,224.4 890.5,220.6 898.5,216.2 906.5,215.5 914.5,213.4 922.5,213.4 930.5,218.6 938.5,223.3 946.5,224.5 954.5,224.6 962.5,224.6 970.5,224.6 978.5,225.9 986.5,225.9 994.5,224.0 1002.5,222.8 1010.5,221.8 1018.5,219.4 1026.5,213.4 1034.5,206.6 1042.5,201.6 1050.5,196.5 1058.5,192.8 1066.5,187.5 1074.5,178.1 1082.5,169.7 1090.5,164.6 1098.5,161.6 1106.5,153.8 1114.5,147.2 1122.5,146.2 1130.5,149.6 1138.5,155.2 1146.5,161.2 1154.5,167.8 1162.5,176.2 1170.5,181.9" fill="none" stroke="#0033dd" stroke-width="2" stroke-linejoin="round"/>
<polyline points="3,433.9 10.5,439.4 18.5,440.9 26.5,437.8 34.5,436.2 42.5,435.5 50.5,432.8 58.5,431.2 66.5,430.0 74.5,427.7 82.5,422.2 90.5,413.6 98.5,405.0 106.5,398.4 114.5,393.3 122.5,389.7 130.5,390.2 138.5,392.2 146.5,393.8 154.5,389.4 162.5,382.8 170.5,378.4 178.5,376.1 186.5,376.1 194.5,376.1 202.5,379.2 210.5,380.8 218.5,382.3 226.5,385.0 234.5,384.7 242.5,380.8 250.5,376.9 258.5,372.2 266.5,369.8 274.5,370.3 282.5,372.2 290.5,377.7 298.5,377.7 306.5,368.3 314.5,360.9 322.5,359.7 330.5,360.5 338.5,363.1 346.5,362.5 354.5,356.6 362.5,350.3 370.5,348.4 378.5,348.4 386.5,351.8 394.5,358.0 402.5,363.1 410.5,366.6 418.5,368.9 426.5,370.5 434.5,373.6 442.5,377.5 450.5,380.6 458.5,384.5 466.5,385.0 474.5,384.5 482.5,384.2 490.5,388.1 498.5,390.0 506.5,386.9 514.5,382.2 522.5,374.4 530.5,363.4 538.5,354.1 546.5,344.7 554.5,336.1 562.5,327.5 570.5,317.3 578.5,306.9 586.5,301.3 594.5,296.0 602.5,291.2 610.5,284.5 618.5,278.3 626.5,272.0 634.5,265.8 642.5,258.8 650.5,251.7 658.5,244.7 666.5,235.3 674.5,225.9 682.5,220.5 690.5,217.3 698.5,218.6 706.5,218.9 714.5,218.6 722.5,214.7 730.5,211.1 738.5,206.4 746.5,202.5 754.5,200.9 762.5,203.8 770.5,209.2 778.5,212.3 786.5,216.2 794.5,224.0 802.5,231.9 810.5,238.6 818.5,240.0 826.5,239.7 834.5,235.0 842.5,228.8 850.5,221.7 858.5,217.8 866.5,211.6 874.5,206.1 882.5,204.2 890.5,203.8 898.5,203.8 906.5,213.1 914.5,221.7 922.5,225.9 930.5,225.9 938.5,225.9 946.5,225.6 954.5,225.4 962.5,228.4 970.5,223.5 978.5,220.9 986.5,220.3 994.5,216.0 1002.5,207.2 1010.5,196.9 1018.5,188.4 1026.5,182.2 1034.5,176.6 1042.5,171.0 1050.5,157.5 1058.5,147.2 1066.5,142.5 1074.5,139.3 1082.5,129.8 1090.5,123.8 1098.5,123.8 1106.5,133.1 1114.5,143.4 1122.5,154.7 1130.5,166.9 1138.5,179.0 1146.5,189.4" fill="none" stroke="#ff0000" stroke-width="2" stroke-linejoin="round"/>
<polyline points="3,441.7 10.5,436.3 18.5,435.5 26.5,433.1 34.5,430.0 42.5,428.1 50.5,426.1 58.5,423.4 66.5,412.8 74.5,400.3 82.5,391.7 90.5,383.9 98.5,379.2 106.5,375.0 114.5,379.7 122.5,385.5 130.5,388.6 138.5,383.9 146.5,373.0 154.5,368.3 162.5,366.7 170.5,368.8 178.5,368.8 186.5,376.9 194.5,379.2 202.5,381.6 210.5,385.5 218.5,385.0 226.5,378.4 234.5,373.0 242.5,366.7 250.5,363.6 258.5,365.6 266.5,370.9 274.5,379.7 282.5,378.4 290.5,362.8 298.5,354.2 306.5,351.9 314.5,355.0 322.5,360.9 330.5,360.0 338.5,350.3 346.5,342.2 354.5,340.9 362.5,342.8 370.5,348.0 378.5,358.1 386.5,366.3 394.5,372.0 402.5,374.4 410.5,376.7 418.5,379.8 426.5,384.5 434.5,388.4 442.5,392.3 450.5,391.9 458.5,388.9 466.5,389.2 474.5,394.4 482.5,394.4 490.5,389.2 498.5,379.8 506.5,366.6 514.5,351.7 522.5,338.4 530.5,329.4 538.5,319.2 546.5,308.1 554.5,294.0 562.5,283.8 570.5,280.3 578.5,275.6 586.5,270.2 594.5,266.9 602.5,260.0 610.5,252.5 618.5,247.0 626.5,240.0 634.5,232.2 642.5,224.4 650.5,213.4 658.5,202.5 666.5,197.5 674.5,197.0 682.5,203.3 690.5,208.0 698.5,208.0 706.5,204.8 714.5,202.8 722.5,195.3 730.5,190.4 738.5,190.4 746.5,196.2 754.5,207.0 762.5,212.3 770.5,220.2 778.5,231.1 786.5,242.8 794.5,250.6 802.5,250.9 810.5,247.5 818.5,238.9 826.5,228.0 834.5,216.2 842.5,210.8 850.5,203.0 858.5,197.5 866.5,195.8 874.5,195.5 882.5,197.5 890.5,214.0 898.5,228.5 906.5,231.5 914.5,231.3 922.5,230.3 930.5,229.5 938.5,228.8 946.5,231.0 954.5,225.0 962.5,220.0 970.5,220.0 978.5,212.5 986.5,197.5 994.5,181.9 1002.5,172.5 1010.5,165.9 1018.5,162.2 1026.5,154.7 1034.5,135.0 1042.5,123.4 1050.5,120.0 1058.5,119.6 1066.5,108.8 1074.5,102.8 1082.5,108.8 1090.5,125.6 1098.5,142.5 1106.5,160.3 1114.5,178.1 1122.5,195.9 1130.5,209.6" fill="none" stroke="#00ff00" stroke-width="2" stroke-linejoin="round"/>
<g shape-rendering="geometricPrecision" fill="none" stroke-width="1.1">
<polygon points="1122.3,240.3 1130.3,247.6 1126,247.6 1126,258.4 1118.4,258.4 1118.4,247.6 1114,247.6" stroke="#3ccf3c"/>
<polygon points="1121.9,287.7 1129.8,280.6 1125.5,280.6 1125.5,269.4 1118.3,269.4 1118.3,280.6 1113.8,280.6" stroke="#ff1a1a"/>
</g>
</g>
<rect x="8" y="530" width="4" height="8" fill="#008000"/>
<rect x="16" y="526" width="4" height="12" fill="#008000"/>
<rect x="24" y="526" width="4" height="12" fill="#008000"/>
<rect x="32" y="525" width="4" height="13" fill="#008000"/>
<rect x="40" y="521" width="4" height="17" fill="#008000"/>
<rect x="48" y="516" width="4" height="22" fill="#008000"/>
<rect x="56" y="511" width="4" height="27" fill="#008000"/>
<rect x="64" y="506" width="4" height="32" fill="#008000"/>
<rect x="72" y="503" width="4" height="35" fill="#008000"/>
<rect x="80" y="503" width="4" height="35" fill="#008000"/>
<rect x="88" y="509" width="4" height="29" fill="#ff0000"/>
<rect x="96" y="514" width="4" height="24" fill="#ff0000"/>
<rect x="104" y="520" width="4" height="18" fill="#ff0000"/>
<rect x="112" y="521" width="4" height="17" fill="#ff0000"/>
<rect x="120" y="522" width="4" height="16" fill="#ff0000"/>
<rect x="128" y="518" width="4" height="20" fill="#008000"/>
<rect x="136" y="515" width="4" height="23" fill="#008000"/>
<rect x="144" y="514" width="4" height="24" fill="#008000"/>
<rect x="152" y="517" width="4" height="21" fill="#ff0000"/>
<rect x="160" y="525" width="4" height="13" fill="#ff0000"/>
<rect x="168" y="530" width="4" height="8" fill="#ff0000"/>
<rect x="176" y="534" width="4" height="4" fill="#ff0000"/>
<rect x="184" y="536" width="4" height="2" fill="#ff0000"/>
<rect x="192" y="537" width="4" height="1" fill="#ff0000"/>
<rect x="200" y="533" width="4" height="5" fill="#008000"/>
<rect x="208" y="531" width="4" height="7" fill="#008000"/>
<rect x="216" y="527" width="4" height="11" fill="#008000"/>
<rect x="224" y="522" width="4" height="16" fill="#008000"/>
<rect x="232" y="523" width="4" height="15" fill="#ff0000"/>
<rect x="240" y="527" width="4" height="11" fill="#ff0000"/>
<rect x="248" y="534" width="4" height="4" fill="#ff0000"/>
<rect x="256" y="537" width="4" height="1" fill="#ff0000"/>
<rect x="264" y="535" width="4" height="3" fill="#008000"/>
<rect x="272" y="531" width="4" height="7" fill="#008000"/>
<rect x="280" y="528" width="4" height="10" fill="#008000"/>
<rect x="288" y="523" width="4" height="15" fill="#008000"/>
<rect x="296" y="525" width="4" height="13" fill="#ff0000"/>
<rect x="304" y="531" width="4" height="7" fill="#ff0000"/>
<rect x="312" y="532" width="4" height="6" fill="#ff0000"/>
<rect x="320" y="529" width="4" height="9" fill="#008000"/>
<rect x="328" y="526" width="4" height="12" fill="#008000"/>
<rect x="336" y="523" width="4" height="15" fill="#008000"/>
<rect x="344" y="524" width="4" height="14" fill="#ff0000"/>
<rect x="352" y="531" width="4" height="7" fill="#ff0000"/>
<rect x="360" y="537" width="4" height="1" fill="#ff0000"/>
<rect x="368" y="538" width="4" height="8" fill="#ff0000"/>
<rect x="376" y="538" width="4" height="11" fill="#ff0000"/>
<rect x="384" y="538" width="4" height="12" fill="#ff0000"/>
<rect x="392" y="538" width="4" height="10" fill="#008000"/>
<rect x="400" y="538" width="4" height="11" fill="#ff0000"/>
<rect x="408" y="538" width="4" height="11" fill="#ff0000"/>
<rect x="416" y="538" width="4" height="13" fill="#ff0000"/>
<rect x="424" y="538" width="4" height="13" fill="#ff0000"/>
<rect x="432" y="538" width="4" height="12" fill="#008000"/>
<rect x="440" y="538" width="4" height="10" fill="#008000"/>
<rect x="448" y="538" width="4" height="11" fill="#ff0000"/>
<rect x="456" y="538" width="4" height="11" fill="#008000"/>
<rect x="464" y="538" width="4" height="8" fill="#008000"/>
<rect x="472" y="538" width="4" height="5" fill="#008000"/>
<rect x="480" y="537" width="4" height="1" fill="#008000"/>
<rect x="488" y="526" width="4" height="12" fill="#008000"/>
<rect x="496" y="516" width="4" height="22" fill="#008000"/>
<rect x="504" y="511" width="4" height="27" fill="#008000"/>
<rect x="512" y="506" width="4" height="32" fill="#008000"/>
<rect x="520" y="504" width="4" height="34" fill="#008000"/>
<rect x="528" y="501" width="4" height="37" fill="#008000"/>
<rect x="536" y="497" width="4" height="41" fill="#008000"/>
<rect x="544" y="496" width="4" height="42" fill="#008000"/>
<rect x="552" y="495" width="4" height="43" fill="#008000"/>
<rect x="560" y="495" width="4" height="43" fill="#ff0000"/>
<rect x="568" y="498" width="4" height="40" fill="#ff0000"/>
<rect x="576" y="499" width="4" height="39" fill="#ff0000"/>
<rect x="584" y="496" width="4" height="42" fill="#008000"/>
<rect x="592" y="494" width="4" height="44" fill="#008000"/>
<rect x="600" y="492" width="4" height="46" fill="#008000"/>
<rect x="608" y="490" width="4" height="48" fill="#008000"/>
<rect x="616" y="489" width="4" height="49" fill="#008000"/>
<rect x="624" y="486" width="4" height="52" fill="#008000"/>
<rect x="632" y="484" width="4" height="54" fill="#008000"/>
<rect x="640" y="484" width="4" height="54" fill="#008000"/>
<rect x="648" y="485" width="4" height="53" fill="#ff0000"/>
<rect x="656" y="491" width="4" height="47" fill="#ff0000"/>
<rect x="664" y="499" width="4" height="39" fill="#ff0000"/>
<rect x="672" y="505" width="4" height="33" fill="#ff0000"/>
<rect x="680" y="509" width="4" height="29" fill="#ff0000"/>
<rect x="688" y="513" width="4" height="25" fill="#ff0000"/>
<rect x="696" y="510" width="4" height="28" fill="#008000"/>
<rect x="704" y="508" width="4" height="30" fill="#008000"/>
<rect x="712" y="509" width="4" height="29" fill="#ff0000"/>
<rect x="720" y="514" width="4" height="24" fill="#ff0000"/>
<rect x="728" y="522" width="4" height="16" fill="#ff0000"/>
<rect x="736" y="530" width="4" height="8" fill="#ff0000"/>
<rect x="744" y="537" width="4" height="1" fill="#ff0000"/>
<rect x="752" y="538" width="4" height="8" fill="#ff0000"/>
<rect x="760" y="538" width="4" height="15" fill="#ff0000"/>
<rect x="768" y="538" width="4" height="18" fill="#ff0000"/>
<rect x="776" y="538" width="4" height="20" fill="#ff0000"/>
<rect x="784" y="538" width="4" height="20" fill="#008000"/>
<rect x="792" y="538" width="4" height="14" fill="#008000"/>
<rect x="800" y="538" width="4" height="4" fill="#008000"/>
<rect x="808" y="533" width="4" height="5" fill="#008000"/>
<rect x="816" y="528" width="4" height="10" fill="#008000"/>
<rect x="824" y="523" width="4" height="15" fill="#008000"/>
<rect x="832" y="521" width="4" height="17" fill="#008000"/>
<rect x="840" y="524" width="4" height="14" fill="#ff0000"/>
<rect x="848" y="526" width="4" height="12" fill="#ff0000"/>
<rect x="856" y="528" width="4" height="10" fill="#ff0000"/>
<rect x="864" y="537" width="4" height="1" fill="#ff0000"/>
<rect x="872" y="538" width="4" height="9" fill="#ff0000"/>
<rect x="880" y="538" width="4" height="13" fill="#ff0000"/>
<rect x="888" y="538" width="4" height="16" fill="#ff0000"/>
<rect x="896" y="538" width="4" height="17" fill="#ff0000"/>
<rect x="904" y="538" width="4" height="12" fill="#008000"/>
<rect x="912" y="538" width="4" height="5" fill="#008000"/>
<rect x="920" y="538" width="4" height="4" fill="#008000"/>
<rect x="928" y="538" width="4" height="2" fill="#008000"/>
<rect x="936" y="538" width="4" height="1" fill="#008000"/>
<rect x="944" y="536" width="4" height="2" fill="#008000"/>
<rect x="952" y="533" width="4" height="5" fill="#008000"/>
<rect x="960" y="524" width="4" height="14" fill="#008000"/>
<rect x="968" y="517" width="4" height="21" fill="#008000"/>
<rect x="976" y="512" width="4" height="26" fill="#008000"/>
<rect x="984" y="505" width="4" height="33" fill="#008000"/>
<rect x="992" y="502" width="4" height="36" fill="#008000"/>
<rect x="1000" y="503" width="4" height="35" fill="#ff0000"/>
<rect x="1008" y="500" width="4" height="38" fill="#008000"/>
<rect x="1016" y="496" width="4" height="42" fill="#008000"/>
<rect x="1024" y="496" width="4" height="42" fill="#008000"/>
<rect x="1032" y="495" width="4" height="43" fill="#008000"/>
<rect x="1040" y="492" width="4" height="46" fill="#008000"/>
<rect x="1048" y="496" width="4" height="42" fill="#ff0000"/>
<rect x="1056" y="504" width="4" height="34" fill="#ff0000"/>
<rect x="1064" y="512" width="4" height="26" fill="#ff0000"/>
<rect x="1072" y="520" width="4" height="18" fill="#ff0000"/>
<rect x="1080" y="535" width="4" height="3" fill="#ff0000"/>
<rect x="1088" y="538" width="4" height="13" fill="#ff0000"/>
<rect x="1096" y="538" width="4" height="24" fill="#ff0000"/>
<rect x="1104" y="538" width="4" height="28" fill="#ff0000"/>
<rect x="8" y="605" width="4" height="13" fill="#008000"/>
<rect x="16" y="602" width="4" height="16" fill="#008000"/>
<rect x="24" y="608" width="4" height="10" fill="#ff0000"/>
<rect x="32" y="610" width="4" height="8" fill="#ff0000"/>
<rect x="40" y="609" width="4" height="9" fill="#008000"/>
<rect x="48" y="605" width="4" height="13" fill="#008000"/>
<rect x="56" y="602" width="4" height="16" fill="#008000"/>
<rect x="64" y="601" width="4" height="17" fill="#008000"/>
<rect x="72" y="602" width="4" height="16" fill="#ff0000"/>
<rect x="80" y="609" width="4" height="9" fill="#ff0000"/>
<rect x="88" y="618" width="4" height="5" fill="#ff0000"/>
<rect x="96" y="618" width="4" height="14" fill="#ff0000"/>
<rect x="104" y="618" width="4" height="20" fill="#ff0000"/>
<rect x="112" y="618" width="4" height="15" fill="#008000"/>
<rect x="120" y="618" width="4" height="9" fill="#008000"/>
<rect x="128" y="617" width="4" height="1" fill="#008000"/>
<rect x="136" y="610" width="4" height="8" fill="#008000"/>
<rect x="144" y="611" width="4" height="7" fill="#ff0000"/>
<rect x="152" y="617" width="4" height="1" fill="#ff0000"/>
<rect x="160" y="618" width="4" height="14" fill="#ff0000"/>
<rect x="168" y="618" width="4" height="19" fill="#ff0000"/>
<rect x="176" y="618" width="4" height="19" fill="#ff0000"/>
<rect x="184" y="618" width="4" height="15" fill="#008000"/>
<rect x="192" y="618" width="4" height="10" fill="#008000"/>
<rect x="200" y="616" width="4" height="2" fill="#008000"/>
<rect x="208" y="611" width="4" height="7" fill="#008000"/>
<rect x="216" y="607" width="4" height="11" fill="#008000"/>
<rect x="224" y="604" width="4" height="14" fill="#008000"/>
<rect x="232" y="610" width="4" height="8" fill="#ff0000"/>
<rect x="240" y="618" width="4" height="2" fill="#ff0000"/>
<rect x="248" y="618" width="4" height="14" fill="#ff0000"/>
<rect x="256" y="618" width="4" height="17" fill="#ff0000"/>
<rect x="264" y="618" width="4" height="8" fill="#008000"/>
<rect x="272" y="615" width="4" height="3" fill="#008000"/>
<rect x="280" y="609" width="4" height="9" fill="#008000"/>
<rect x="288" y="604" width="4" height="14" fill="#008000"/>
<rect x="296" y="612" width="4" height="6" fill="#ff0000"/>
<rect x="304" y="618" width="4" height="6" fill="#ff0000"/>
<rect x="312" y="618" width="4" height="7" fill="#ff0000"/>
<rect x="320" y="618" width="4" height="2" fill="#008000"/>
<rect x="328" y="614" width="4" height="4" fill="#008000"/>
<rect x="336" y="608" width="4" height="10" fill="#008000"/>
<rect x="344" y="613" width="4" height="5" fill="#ff0000"/>
<rect x="352" y="618" width="4" height="9" fill="#ff0000"/>
<rect x="360" y="618" width="4" height="20" fill="#ff0000"/>
<rect x="368" y="618" width="4" height="25" fill="#ff0000"/>
<rect x="376" y="618" width="4" height="21" fill="#008000"/>
<rect x="384" y="618" width="4" height="14" fill="#008000"/>
<rect x="392" y="618" width="4" height="4" fill="#008000"/>
<rect x="400" y="618" width="4" height="1" fill="#008000"/>
<rect x="408" y="618" width="4" height="1" fill="#008000"/>
<rect x="416" y="618" width="4" height="3" fill="#ff0000"/>
<rect x="424" y="618" width="4" height="3" fill="#ff0000"/>
<rect x="432" y="618" width="4" height="1" fill="#008000"/>
<rect x="440" y="615" width="4" height="3" fill="#008000"/>
<rect x="448" y="617" width="4" height="1" fill="#ff0000"/>
<rect x="456" y="617" width="4" height="1" fill="#008000"/>
<rect x="464" y="614" width="4" height="4" fill="#008000"/>
<rect x="472" y="611" width="4" height="7" fill="#008000"/>
<rect x="480" y="604" width="4" height="14" fill="#008000"/>
<rect x="488" y="591" width="4" height="27" fill="#008000"/>
<rect x="496" y="586" width="4" height="32" fill="#008000"/>
<rect x="504" y="588" width="4" height="30" fill="#ff0000"/>
<rect x="512" y="594" width="4" height="24" fill="#ff0000"/>
<rect x="520" y="601" width="4" height="17" fill="#ff0000"/>
<rect x="528" y="606" width="4" height="12" fill="#ff0000"/>
<rect x="536" y="606" width="4" height="12" fill="#008000"/>
<rect x="544" y="609" width="4" height="9" fill="#ff0000"/>
<rect x="552" y="611" width="4" height="7" fill="#ff0000"/>
<rect x="560" y="615" width="4" height="3" fill="#ff0000"/>
<rect x="568" y="618" width="4" height="4" fill="#ff0000"/>
<rect x="576" y="618" width="4" height="5" fill="#ff0000"/>
<rect x="584" y="618" width="4" height="1" fill="#008000"/>
<rect x="592" y="614" width="4" height="4" fill="#008000"/>
<rect x="600" y="612" width="4" height="6" fill="#008000"/>
<rect x="608" y="610" width="4" height="8" fill="#008000"/>
<rect x="616" y="611" width="4" height="7" fill="#ff0000"/>
<rect x="624" y="610" width="4" height="8" fill="#008000"/>
<rect x="632" y="610" width="4" height="8" fill="#008000"/>
<rect x="640" y="613" width="4" height="5" fill="#ff0000"/>
<rect x="648" y="618" width="4" height="1" fill="#ff0000"/>
<rect x="656" y="618" width="4" height="9" fill="#ff0000"/>
<rect x="664" y="618" width="4" height="19" fill="#ff0000"/>
<rect x="672" y="618" width="4" height="24" fill="#ff0000"/>
<rect x="680" y="618" width="4" height="22" fill="#008000"/>
<rect x="688" y="618" width="4" height="18" fill="#008000"/>
<rect x="696" y="618" width="4" height="5" fill="#008000"/>
<rect x="704" y="616" width="4" height="2" fill="#008000"/>
<rect x="712" y="616" width="4" height="2" fill="#ff0000"/>
<rect x="720" y="618" width="4" height="7" fill="#ff0000"/>
<rect x="728" y="618" width="4" height="18" fill="#ff0000"/>
<rect x="736" y="618" width="4" height="25" fill="#ff0000"/>
<rect x="744" y="618" width="4" height="29" fill="#ff0000"/>
<rect x="752" y="618" width="4" height="31" fill="#ff0000"/>
<rect x="760" y="618" width="4" height="29" fill="#008000"/>
<rect x="768" y="618" width="4" height="21" fill="#008000"/>
<rect x="776" y="618" width="4" height="16" fill="#008000"/>
<rect x="784" y="618" width="4" height="7" fill="#008000"/>
<rect x="792" y="612" width="4" height="6" fill="#008000"/>
<rect x="800" y="598" width="4" height="20" fill="#008000"/>
<rect x="808" y="589" width="4" height="29" fill="#008000"/>
<rect x="816" y="591" width="4" height="27" fill="#ff0000"/>
<rect x="824" y="595" width="4" height="23" fill="#ff0000"/>
<rect x="832" y="603" width="4" height="15" fill="#ff0000"/>
<rect x="840" y="614" width="4" height="4" fill="#ff0000"/>
<rect x="848" y="618" width="4" height="4" fill="#ff0000"/>
<rect x="856" y="618" width="4" height="7" fill="#ff0000"/>
<rect x="864" y="618" width="4" height="20" fill="#ff0000"/>
<rect x="872" y="618" width="4" height="27" fill="#ff0000"/>
<rect x="880" y="618" width="4" height="25" fill="#008000"/>
<rect x="888" y="618" width="4" height="20" fill="#008000"/>
<rect x="896" y="618" width="4" height="11" fill="#008000"/>
<rect x="904" y="615" width="4" height="3" fill="#008000"/>
<rect x="912" y="604" width="4" height="14" fill="#008000"/>
<rect x="920" y="605" width="4" height="13" fill="#ff0000"/>
<rect x="928" y="607" width="4" height="11" fill="#ff0000"/>
<rect x="936" y="610" width="4" height="8" fill="#ff0000"/>
<rect x="944" y="611" width="4" height="7" fill="#ff0000"/>
<rect x="952" y="610" width="4" height="8" fill="#008000"/>
<rect x="960" y="600" width="4" height="18" fill="#008000"/>
<rect x="968" y="595" width="4" height="23" fill="#008000"/>
<rect x="976" y="595" width="4" height="23" fill="#008000"/>
<rect x="984" y="594" width="4" height="24" fill="#008000"/>
<rect x="992" y="600" width="4" height="18" fill="#ff0000"/>
<rect x="1000" y="609" width="4" height="9" fill="#ff0000"/>
<rect x="1008" y="610" width="4" height="8" fill="#ff0000"/>
<rect x="1016" y="608" width="4" height="10" fill="#008000"/>
<rect x="1024" y="611" width="4" height="7" fill="#ff0000"/>
<rect x="1032" y="613" width="4" height="5" fill="#ff0000"/>
<rect x="1040" y="612" width="4" height="6" fill="#008000"/>
<rect x="1048" y="618" width="4" height="2" fill="#ff0000"/>
<rect x="1056" y="618" width="4" height="13" fill="#ff0000"/>
<rect x="1064" y="618" width="4" height="23" fill="#ff0000"/>
<rect x="1072" y="618" width="4" height="29" fill="#ff0000"/>
<rect x="1080" y="618" width="4" height="41" fill="#ff0000"/>
<rect x="1088" y="618" width="4" height="50" fill="#ff0000"/>
<rect x="1096" y="618" width="4" height="49" fill="#008000"/>
<rect x="1104" y="618" width="4" height="37" fill="#008000"/>
<rect x="8" y="721" width="4" height="10" fill="#008000"/>
<rect x="8" y="731" width="4" height="2" fill="#ff0000"/>
<rect x="16" y="720" width="4" height="11" fill="#008000"/>
<rect x="16" y="731" width="4" height="5" fill="#008000"/>
<rect x="24" y="723" width="4" height="8" fill="#ff0000"/>
<rect x="24" y="731" width="4" height="3" fill="#ff0000"/>
<rect x="32" y="727" width="4" height="4" fill="#ff0000"/>
<rect x="32" y="731" width="4" height="5" fill="#008000"/>
<rect x="40" y="729" width="4" height="2" fill="#ff0000"/>
<rect x="40" y="731" width="4" height="6" fill="#008000"/>
<rect x="48" y="730" width="4" height="1" fill="#ff0000"/>
<rect x="48" y="731" width="4" height="6" fill="#ff0000"/>
<rect x="56" y="730" width="4" height="1" fill="#ff0000"/>
<rect x="56" y="731" width="4" height="7" fill="#008000"/>
<rect x="64" y="729" width="4" height="2" fill="#008000"/>
<rect x="64" y="731" width="4" height="13" fill="#008000"/>
<rect x="72" y="728" width="4" height="3" fill="#008000"/>
<rect x="72" y="731" width="4" height="22" fill="#008000"/>
<rect x="80" y="724" width="4" height="7" fill="#008000"/>
<rect x="80" y="731" width="4" height="24" fill="#008000"/>
<rect x="88" y="717" width="4" height="14" fill="#008000"/>
<rect x="88" y="731" width="4" height="23" fill="#ff0000"/>
<rect x="96" y="712" width="4" height="19" fill="#008000"/>
<rect x="96" y="731" width="4" height="22" fill="#ff0000"/>
<rect x="104" y="710" width="4" height="21" fill="#008000"/>
<rect x="104" y="731" width="4" height="20" fill="#ff0000"/>
<rect x="112" y="711" width="4" height="20" fill="#ff0000"/>
<rect x="112" y="731" width="4" height="12" fill="#ff0000"/>
<rect x="120" y="711" width="4" height="20" fill="#008000"/>
<rect x="120" y="731" width="4" height="3" fill="#ff0000"/>
<rect x="128" y="716" width="4" height="15" fill="#ff0000"/>
<rect x="128" y="731" width="4" height="1" fill="#ff0000"/>
<rect x="136" y="721" width="4" height="10" fill="#ff0000"/>
<rect x="136" y="731" width="4" height="8" fill="#008000"/>
<rect x="144" y="725" width="4" height="6" fill="#ff0000"/>
<rect x="144" y="731" width="4" height="17" fill="#008000"/>
<rect x="152" y="722" width="4" height="9" fill="#008000"/>
<rect x="152" y="731" width="4" height="18" fill="#008000"/>
<rect x="160" y="715" width="4" height="16" fill="#008000"/>
<rect x="160" y="731" width="4" height="14" fill="#ff0000"/>
<rect x="168" y="711" width="4" height="20" fill="#008000"/>
<rect x="168" y="731" width="4" height="7" fill="#ff0000"/>
<rect x="176" y="712" width="4" height="19" fill="#ff0000"/>
<rect x="176" y="731" width="4" height="6" fill="#ff0000"/>
<rect x="184" y="717" width="4" height="14" fill="#ff0000"/>
<rect x="184" y="731" width="4" height="1" fill="#ff0000"/>
<rect x="192" y="719" width="4" height="12" fill="#ff0000"/>
<rect x="192" y="731" width="4" height="3" fill="#008000"/>
<rect x="200" y="724" width="4" height="7" fill="#ff0000"/>
<rect x="200" y="731" width="4" height="1" fill="#ff0000"/>
<rect x="208" y="725" width="4" height="6" fill="#ff0000"/>
<rect x="208" y="731" width="4" height="5" fill="#008000"/>
<rect x="216" y="728" width="4" height="3" fill="#ff0000"/>
<rect x="216" y="731" width="4" height="2" fill="#ff0000"/>
<rect x="224" y="729" width="4" height="2" fill="#ff0000"/>
<rect x="224" y="731" width="4" height="4" fill="#008000"/>
<rect x="232" y="728" width="4" height="3" fill="#008000"/>
<rect x="232" y="731" width="4" height="8" fill="#008000"/>
<rect x="240" y="725" width="4" height="6" fill="#008000"/>
<rect x="240" y="731" width="4" height="11" fill="#008000"/>
<rect x="248" y="721" width="4" height="10" fill="#008000"/>
<rect x="248" y="731" width="4" height="12" fill="#008000"/>
<rect x="256" y="718" width="4" height="13" fill="#008000"/>
<rect x="256" y="731" width="4" height="6" fill="#ff0000"/>
<rect x="264" y="717" width="4" height="14" fill="#008000"/>
<rect x="264" y="731" width="4" height="1" fill="#ff0000"/>
<rect x="272" y="720" width="4" height="11" fill="#ff0000"/>
<rect x="272" y="731" width="4" height="8" fill="#008000"/>
<rect x="280" y="724" width="4" height="7" fill="#ff0000"/>
<rect x="280" y="731" width="4" height="5" fill="#ff0000"/>
<rect x="288" y="730" width="4" height="1" fill="#ff0000"/>
<rect x="288" y="731" width="4" height="12" fill="#008000"/>
<rect x="296" y="731" width="4" height="19" fill="#008000"/>
<rect x="304" y="723" width="4" height="8" fill="#008000"/>
<rect x="304" y="731" width="4" height="13" fill="#ff0000"/>
<rect x="312" y="715" width="4" height="16" fill="#008000"/>
<rect x="312" y="731" width="4" height="6" fill="#ff0000"/>
<rect x="320" y="713" width="4" height="18" fill="#008000"/>
<rect x="320" y="731" width="4" height="2" fill="#ff0000"/>
<rect x="328" y="719" width="4" height="12" fill="#ff0000"/>
<rect x="328" y="731" width="4" height="1" fill="#ff0000"/>
<rect x="336" y="726" width="4" height="5" fill="#ff0000"/>
<rect x="336" y="731" width="4" height="10" fill="#008000"/>
<rect x="344" y="726" width="4" height="5" fill="#ff0000"/>
<rect x="344" y="731" width="4" height="16" fill="#008000"/>
<rect x="352" y="722" width="4" height="9" fill="#008000"/>
<rect x="352" y="731" width="4" height="13" fill="#ff0000"/>
<rect x="360" y="715" width="4" height="16" fill="#008000"/>
<rect x="360" y="731" width="4" height="7" fill="#ff0000"/>
<rect x="368" y="714" width="4" height="17" fill="#008000"/>
<rect x="368" y="731" width="4" height="1" fill="#ff0000"/>
<rect x="376" y="718" width="4" height="13" fill="#ff0000"/>
<rect x="376" y="731" width="4" height="8" fill="#008000"/>
<rect x="384" y="723" width="4" height="8" fill="#ff0000"/>
<rect x="384" y="731" width="4" height="12" fill="#008000"/>
<rect x="392" y="731" width="4" height="12" fill="#ff0000"/>
<rect x="400" y="727" width="4" height="4" fill="#008000"/>
<rect x="400" y="731" width="4" height="10" fill="#ff0000"/>
<rect x="408" y="724" width="4" height="7" fill="#008000"/>
<rect x="408" y="731" width="4" height="8" fill="#ff0000"/>
<rect x="416" y="725" width="4" height="6" fill="#ff0000"/>
<rect x="416" y="731" width="4" height="9" fill="#008000"/>
<rect x="424" y="725" width="4" height="6" fill="#ff0000"/>
<rect x="424" y="731" width="4" height="11" fill="#008000"/>
<rect x="432" y="725" width="4" height="6" fill="#008000"/>
<rect x="432" y="731" width="4" height="13" fill="#008000"/>
<rect x="440" y="723" width="4" height="8" fill="#008000"/>
<rect x="440" y="731" width="4" height="13" fill="#ff0000"/>
<rect x="448" y="721" width="4" height="10" fill="#008000"/>
<rect x="448" y="731" width="4" height="10" fill="#ff0000"/>
<rect x="456" y="720" width="4" height="11" fill="#008000"/>
<rect x="456" y="731" width="4" height="4" fill="#ff0000"/>
<rect x="464" y="721" width="4" height="10" fill="#ff0000"/>
<rect x="464" y="731" width="4" height="2" fill="#ff0000"/>
<rect x="472" y="724" width="4" height="7" fill="#ff0000"/>
<rect x="472" y="731" width="4" height="8" fill="#008000"/>
<rect x="480" y="726" width="4" height="5" fill="#ff0000"/>
<rect x="480" y="731" width="4" height="10" fill="#008000"/>
<rect x="488" y="723" width="4" height="8" fill="#008000"/>
<rect x="488" y="731" width="4" height="1" fill="#ff0000"/>
<rect x="496" y="722" width="4" height="9" fill="#008000"/>
<rect x="496" y="731" width="4" height="8" fill="#008000"/>
<rect x="504" y="725" width="4" height="6" fill="#ff0000"/>
<rect x="504" y="731" width="4" height="16" fill="#008000"/>
<rect x="512" y="729" width="4" height="2" fill="#ff0000"/>
<rect x="512" y="731" width="4" height="24" fill="#008000"/>
<rect x="520" y="722" width="4" height="9" fill="#008000"/>
<rect x="520" y="731" width="4" height="28" fill="#008000"/>
<rect x="528" y="714" width="4" height="17" fill="#008000"/>
<rect x="528" y="731" width="4" height="27" fill="#ff0000"/>
<rect x="536" y="710" width="4" height="21" fill="#008000"/>
<rect x="536" y="731" width="4" height="28" fill="#008000"/>
<rect x="544" y="707" width="4" height="24" fill="#008000"/>
<rect x="544" y="731" width="4" height="30" fill="#008000"/>
<rect x="552" y="705" width="4" height="26" fill="#008000"/>
<rect x="552" y="731" width="4" height="35" fill="#008000"/>
<rect x="560" y="703" width="4" height="28" fill="#008000"/>
<rect x="560" y="731" width="4" height="37" fill="#008000"/>
<rect x="568" y="698" width="4" height="33" fill="#008000"/>
<rect x="568" y="731" width="4" height="30" fill="#ff0000"/>
<rect x="576" y="695" width="4" height="36" fill="#008000"/>
<rect x="576" y="731" width="4" height="26" fill="#ff0000"/>
<rect x="584" y="697" width="4" height="34" fill="#ff0000"/>
<rect x="584" y="731" width="4" height="26" fill="#008000"/>
<rect x="592" y="699" width="4" height="32" fill="#ff0000"/>
<rect x="592" y="731" width="4" height="25" fill="#ff0000"/>
<rect x="600" y="700" width="4" height="31" fill="#ff0000"/>
<rect x="600" y="731" width="4" height="26" fill="#008000"/>
<rect x="608" y="700" width="4" height="31" fill="#008000"/>
<rect x="608" y="731" width="4" height="27" fill="#008000"/>
<rect x="616" y="698" width="4" height="33" fill="#008000"/>
<rect x="616" y="731" width="4" height="26" fill="#ff0000"/>
<rect x="624" y="697" width="4" height="34" fill="#008000"/>
<rect x="624" y="731" width="4" height="27" fill="#008000"/>
<rect x="632" y="696" width="4" height="35" fill="#008000"/>
<rect x="632" y="731" width="4" height="28" fill="#008000"/>
<rect x="640" y="695" width="4" height="36" fill="#008000"/>
<rect x="640" y="731" width="4" height="29" fill="#008000"/>
<rect x="648" y="694" width="4" height="37" fill="#008000"/>
<rect x="648" y="731" width="4" height="32" fill="#008000"/>
<rect x="656" y="693" width="4" height="38" fill="#008000"/>
<rect x="656" y="731" width="4" height="34" fill="#008000"/>
<rect x="664" y="690" width="4" height="41" fill="#008000"/>
<rect x="664" y="731" width="4" height="30" fill="#ff0000"/>
<rect x="672" y="688" width="4" height="43" fill="#008000"/>
<rect x="672" y="731" width="4" height="25" fill="#ff0000"/>
<rect x="680" y="688" width="4" height="43" fill="#ff0000"/>
<rect x="680" y="731" width="4" height="14" fill="#ff0000"/>
<rect x="688" y="692" width="4" height="39" fill="#ff0000"/>
<rect x="688" y="731" width="4" height="7" fill="#ff0000"/>
<rect x="696" y="699" width="4" height="32" fill="#ff0000"/>
<rect x="696" y="731" width="4" height="8" fill="#008000"/>
<rect x="704" y="705" width="4" height="26" fill="#ff0000"/>
<rect x="704" y="731" width="4" height="12" fill="#008000"/>
<rect x="712" y="708" width="4" height="23" fill="#ff0000"/>
<rect x="712" y="731" width="4" height="13" fill="#008000"/>
<rect x="720" y="706" width="4" height="25" fill="#008000"/>
<rect x="720" y="731" width="4" height="16" fill="#008000"/>
<rect x="728" y="705" width="4" height="26" fill="#008000"/>
<rect x="728" y="731" width="4" height="17" fill="#008000"/>
<rect x="736" y="703" width="4" height="28" fill="#008000"/>
<rect x="736" y="731" width="4" height="13" fill="#ff0000"/>
<rect x="744" y="702" width="4" height="29" fill="#008000"/>
<rect x="744" y="731" width="4" height="5" fill="#ff0000"/>
<rect x="752" y="704" width="4" height="27" fill="#ff0000"/>
<rect x="752" y="731" width="4" height="5" fill="#008000"/>
<rect x="760" y="710" width="4" height="21" fill="#ff0000"/>
<rect x="760" y="731" width="4" height="8" fill="#008000"/>
<rect x="768" y="719" width="4" height="12" fill="#ff0000"/>
<rect x="768" y="731" width="4" height="9" fill="#008000"/>
<rect x="776" y="723" width="4" height="8" fill="#ff0000"/>
<rect x="776" y="731" width="4" height="15" fill="#008000"/>
<rect x="784" y="727" width="4" height="4" fill="#ff0000"/>
<rect x="784" y="731" width="4" height="21" fill="#008000"/>
<rect x="792" y="731" width="4" height="21" fill="#008000"/>
<rect x="800" y="725" width="4" height="6" fill="#008000"/>
<rect x="800" y="731" width="4" height="16" fill="#ff0000"/>
<rect x="808" y="721" width="4" height="10" fill="#008000"/>
<rect x="808" y="731" width="4" height="8" fill="#ff0000"/>
<rect x="816" y="722" width="4" height="9" fill="#ff0000"/>
<rect x="816" y="731" width="4" height="1" fill="#ff0000"/>
<rect x="824" y="727" width="4" height="4" fill="#ff0000"/>
<rect x="824" y="731" width="4" height="10" fill="#008000"/>
<rect x="832" y="729" width="4" height="2" fill="#ff0000"/>
<rect x="832" y="731" width="4" height="16" fill="#008000"/>
<rect x="840" y="721" width="4" height="10" fill="#008000"/>
<rect x="840" y="731" width="4" height="13" fill="#ff0000"/>
<rect x="848" y="716" width="4" height="15" fill="#008000"/>
<rect x="848" y="731" width="4" height="16" fill="#008000"/>
<rect x="856" y="715" width="4" height="16" fill="#008000"/>
<rect x="856" y="731" width="4" height="17" fill="#008000"/>
<rect x="864" y="714" width="4" height="17" fill="#008000"/>
<rect x="864" y="731" width="4" height="12" fill="#ff0000"/>
<rect x="872" y="714" width="4" height="17" fill="#ff0000"/>
<rect x="872" y="731" width="4" height="9" fill="#ff0000"/>
<rect x="880" y="715" width="4" height="16" fill="#ff0000"/>
<rect x="880" y="731" width="4" height="5" fill="#ff0000"/>
<rect x="888" y="717" width="4" height="14" fill="#ff0000"/>
<rect x="888" y="731" width="4" height="9" fill="#008000"/>
<rect x="896" y="721" width="4" height="10" fill="#ff0000"/>
<rect x="896" y="731" width="4" height="20" fill="#008000"/>
<rect x="904" y="730" width="4" height="1" fill="#ff0000"/>
<rect x="904" y="731" width="4" height="15" fill="#ff0000"/>
<rect x="912" y="723" width="4" height="8" fill="#008000"/>
<rect x="912" y="731" width="4" height="7" fill="#ff0000"/>
<rect x="920" y="720" width="4" height="11" fill="#008000"/>
<rect x="920" y="731" width="4" height="4" fill="#ff0000"/>
<rect x="928" y="724" width="4" height="7" fill="#ff0000"/>
<rect x="928" y="731" width="4" height="4" fill="#008000"/>
<rect x="936" y="729" width="4" height="2" fill="#ff0000"/>
<rect x="936" y="731" width="4" height="2" fill="#ff0000"/>
<rect x="944" y="729" width="4" height="2" fill="#ff0000"/>
<rect x="944" y="731" width="4" height="4" fill="#008000"/>
<rect x="952" y="730" width="4" height="1" fill="#ff0000"/>
<rect x="952" y="731" width="4" height="1" fill="#ff0000"/>
<rect x="960" y="729" width="4" height="2" fill="#008000"/>
<rect x="960" y="731" width="4" height="6" fill="#008000"/>
<rect x="968" y="730" width="4" height="1" fill="#ff0000"/>
<rect x="968" y="731" width="4" height="4" fill="#ff0000"/>
<rect x="976" y="728" width="4" height="3" fill="#008000"/>
<rect x="976" y="731" width="4" height="7" fill="#008000"/>
<rect x="984" y="726" width="4" height="5" fill="#008000"/>
<rect x="984" y="731" width="4" height="18" fill="#008000"/>
<rect x="992" y="724" width="4" height="7" fill="#008000"/>
<rect x="992" y="731" width="4" height="28" fill="#008000"/>
<rect x="1000" y="718" width="4" height="13" fill="#008000"/>
<rect x="1000" y="731" width="4" height="27" fill="#ff0000"/>
<rect x="1008" y="709" width="4" height="22" fill="#008000"/>
<rect x="1008" y="731" width="4" height="24" fill="#ff0000"/>
<rect x="1016" y="706" width="4" height="25" fill="#008000"/>
<rect x="1016" y="731" width="4" height="22" fill="#ff0000"/>
<rect x="1024" y="705" width="4" height="26" fill="#008000"/>
<rect x="1024" y="731" width="4" height="22" fill="#008000"/>
<rect x="1032" y="707" width="4" height="24" fill="#ff0000"/>
<rect x="1032" y="731" width="4" height="34" fill="#008000"/>
<rect x="1040" y="706" width="4" height="25" fill="#008000"/>
<rect x="1040" y="731" width="4" height="39" fill="#008000"/>
<rect x="1048" y="699" width="4" height="32" fill="#008000"/>
<rect x="1048" y="731" width="4" height="31" fill="#ff0000"/>
<rect x="1056" y="694" width="4" height="37" fill="#008000"/>
<rect x="1056" y="731" width="4" height="22" fill="#ff0000"/>
<rect x="1064" y="694" width="4" height="37" fill="#ff0000"/>
<rect x="1064" y="731" width="4" height="28" fill="#008000"/>
<rect x="1072" y="699" width="4" height="32" fill="#ff0000"/>
<rect x="1072" y="731" width="4" height="30" fill="#008000"/>
<rect x="1080" y="698" width="4" height="33" fill="#008000"/>
<rect x="1080" y="731" width="4" height="17" fill="#ff0000"/>
<rect x="1088" y="696" width="4" height="35" fill="#008000"/>
<rect x="1088" y="731" width="4" height="3" fill="#ff0000"/>
<rect x="1096" y="701" width="4" height="30" fill="#ff0000"/>
<rect x="1096" y="731" width="4" height="15" fill="#008000"/>
<rect x="1104" y="715" width="4" height="16" fill="#ff0000"/>
<rect x="1104" y="731" width="4" height="22" fill="#008000"/>
<rect x="1112" y="727" width="4" height="4" fill="#ff0000"/>
<rect x="1112" y="731" width="4" height="31" fill="#008000"/>
<rect x="1120" y="725" width="4" height="6" fill="#008000"/>
<rect x="1120" y="731" width="4" height="36" fill="#008000"/>
<rect x="1128" y="717" width="4" height="14" fill="#008000"/>
<rect x="1128" y="731" width="4" height="35" fill="#ff0000"/>
<rect x="1136" y="711" width="4" height="20" fill="#008000"/>
<rect x="1144" y="707" width="4" height="24" fill="#008000"/>
<rect x="3" y="537" width="1" height="1" fill="#008000"/>
<rect x="3" y="617" width="1" height="2" fill="#008000"/>
<rect x="3" y="727" width="1" height="11" fill="#008000"/>
<g class="g">
<line x1="2" y1="538.5" x2="1227" y2="538.5"/>
<line x1="2" y1="618.5" x2="1227" y2="618.5"/>
<line x1="2" y1="731.5" x2="1227" y2="731.5"/>
</g>
<rect x="2.5" y="2.5" width="1225" height="471" fill="none" stroke="#000" stroke-width="1"/>
<rect x="2.5" y="475.5" width="1225" height="100" fill="none" stroke="#000" stroke-width="1"/>
<rect x="2.5" y="577.5" width="1225" height="100" fill="none" stroke="#000" stroke-width="1"/>
<rect x="2.5" y="679.5" width="1225" height="100" fill="none" stroke="#000" stroke-width="1"/>
<rect x="1228" y="11" width="4" height="1" fill="#000"/>
<rect x="1228" y="44" width="4" height="1" fill="#000"/>
<rect x="1228" y="77" width="4" height="1" fill="#000"/>
<rect x="1228" y="110" width="4" height="1" fill="#000"/>
<rect x="1228" y="143" width="4" height="1" fill="#000"/>
<rect x="1228" y="176" width="4" height="1" fill="#000"/>
<rect x="1228" y="209" width="4" height="1" fill="#000"/>
<rect x="1228" y="242" width="4" height="1" fill="#000"/>
<rect x="1228" y="275" width="4" height="1" fill="#000"/>
<rect x="1228" y="308" width="4" height="1" fill="#000"/>
<rect x="1228" y="341" width="4" height="1" fill="#000"/>
<rect x="1228" y="374" width="4" height="1" fill="#000"/>
<rect x="1228" y="407" width="4" height="1" fill="#000"/>
<rect x="1228" y="440" width="4" height="1" fill="#000"/>
<rect x="1228" y="476" width="4" height="1" fill="#000"/>
<rect x="1228" y="574" width="4" height="1" fill="#000"/>
<rect x="1228" y="578" width="4" height="1" fill="#000"/>
<rect x="1228" y="676" width="4" height="1" fill="#000"/>
<rect x="1228" y="680" width="4" height="1" fill="#000"/>
<rect x="1228" y="778" width="4" height="1" fill="#000"/>
<rect x="2" y="779" width="1" height="5" fill="#000"/>
<rect x="66" y="779" width="1" height="5" fill="#000"/>
<rect x="130" y="779" width="1" height="5" fill="#000"/>
<rect x="194" y="779" width="1" height="5" fill="#000"/>
<rect x="258" y="779" width="1" height="5" fill="#000"/>
<rect x="322" y="779" width="1" height="5" fill="#000"/>
<rect x="386" y="779" width="1" height="5" fill="#000"/>
<rect x="450" y="779" width="1" height="5" fill="#000"/>
<rect x="514" y="779" width="1" height="5" fill="#000"/>
<rect x="578" y="779" width="1" height="5" fill="#000"/>
<rect x="642" y="779" width="1" height="5" fill="#000"/>
<rect x="706" y="779" width="1" height="5" fill="#000"/>
<rect x="770" y="779" width="1" height="5" fill="#000"/>
<rect x="834" y="779" width="1" height="5" fill="#000"/>
<rect x="898" y="779" width="1" height="5" fill="#000"/>
<rect x="962" y="779" width="1" height="5" fill="#000"/>
<rect x="1026" y="779" width="1" height="5" fill="#000"/>
<rect x="1090" y="779" width="1" height="5" fill="#000"/>
<rect x="1230" y="260" width="39" height="11" fill="#c80000"/>
<g shape-rendering="geometricPrecision" style="filter:grayscale(1)">
<text x="1233" y="15">0.79680</text>
<text x="1233" y="48">0.79610</text>
<text x="1233" y="81">0.79540</text>
<text x="1233" y="114">0.79470</text>
<text x="1233" y="147">0.79400</text>
<text x="1233" y="180">0.79330</text>
<text x="1233" y="213">0.79260</text>
<text x="1233" y="246">0.79190</text>
<text x="1233" y="279">0.79120</text>
<text x="1233" y="312">0.79050</text>
<text x="1233" y="345">0.78980</text>
<text x="1233" y="378">0.78910</text>
<text x="1233" y="411">0.78840</text>
<text x="1233" y="444">0.78770</text>
<text x="1233" y="269" style="fill:#fff">0.79142</text>
<text x="1233" y="484">0.002853</text>
<text x="1233" y="541">0.000000</text>
<text x="1233" y="573">-0.001703</text>
<text x="1233" y="586">0.0010006</text>
<text x="1233" y="621">0.0000000</text>
<text x="1233" y="675">-0.0014223</text>
<text x="1233" y="688">0.001332</text>
<text x="1233" y="734">0.000000</text>
<text x="1233" y="777">-0.001237</text>
<text x="6.6" y="488">AOcust -0.001307</text>
<text x="6.6" y="590">ACcust -0.0008866</text>
<text x="6.6" y="692">GatorCust 0.000604 -0.000902</text>
<text x="2" y="792">26 Dec 2025</text>
<text x="66" y="792">26 Dec 12:00</text>
<text x="130" y="792">26 Dec 20:00</text>
<text x="194" y="792">29 Dec 04:00</text>
<text x="258" y="792">29 Dec 12:00</text>
<text x="322" y="792">29 Dec 20:00</text>
<text x="386" y="792">30 Dec 04:00</text>
<text x="450" y="792">30 Dec 12:00</text>
<text x="514" y="792">30 Dec 20:00</text>
<text x="578" y="792">31 Dec 04:00</text>
<text x="642" y="792">31 Dec 12:00</text>
<text x="706" y="792">31 Dec 20:00</text>
<text x="770" y="792">2 Jan 05:00</text>
<text x="834" y="792">2 Jan 13:00</text>
<text x="898" y="792">2 Jan 21:00</text>
<text x="962" y="792">5 Jan 05:00</text>
<text x="1026" y="792">5 Jan 13:00</text>
<text x="1090" y="792">5 Jan 21:00</text>
</g>
</svg></body></html>
